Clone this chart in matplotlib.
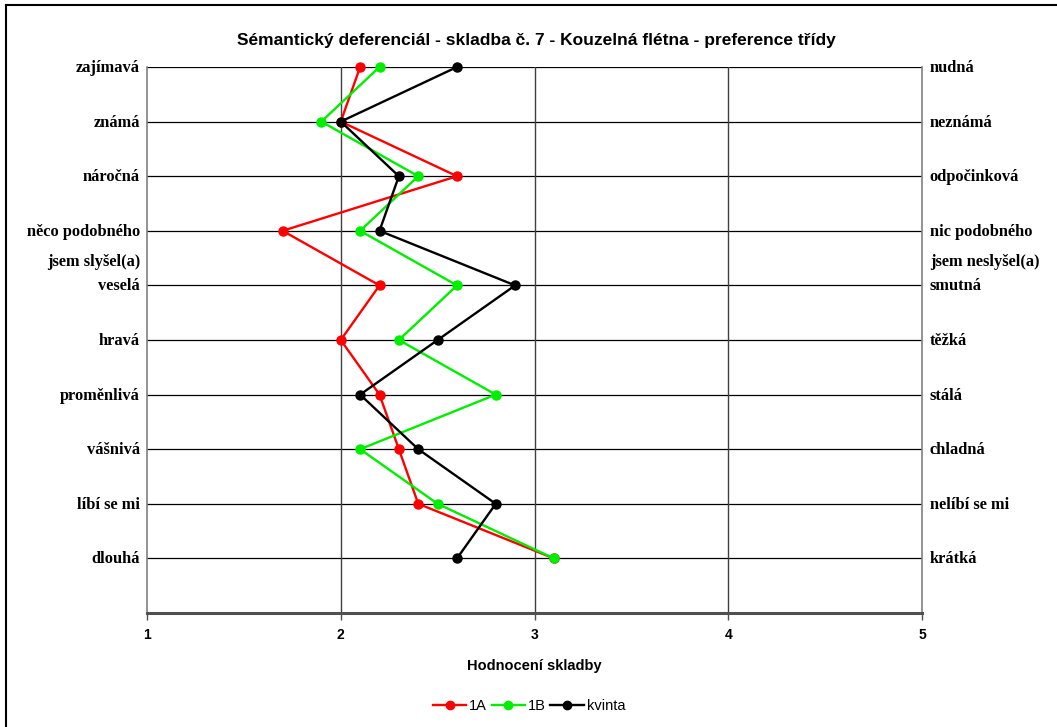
import matplotlib.pyplot as plt
from matplotlib.lines import Line2D

# Word pairs of the semantic differential (left pole / right pole)
left_labels = ["zajímavá", "známá", "náročná", "něco podobného\njsem slyšel(a)", "veselá",
               "hravá", "proměnlivá", "vášnivá", "líbí se mi", "dlouhá"]
right_labels = ["nudná", "neznámá", "odpočinková", "nic podobného\njsem neslyšel(a)", "smutná",
                "těžká", "stálá", "chladná", "nelíbí se mi", "krátká"]

# Mean ratings per class
class_1a = [2.1, 2.0, 2.6, 1.7, 2.2, 2.0, 2.2, 2.3, 2.4, 3.1]
class_1b = [2.2, 1.9, 2.4, 2.1, 2.6, 2.3, 2.8, 2.1, 2.5, 3.1]
kvinta = [2.6, 2.0, 2.3, 2.2, 2.9, 2.5, 2.1, 2.4, 2.8, 2.6]

series_names = ["1A", "1B", "kvinta"]
series_colors = ["#ff0000", "#00ee00", "#000000"]

rows = list(range(len(left_labels)))

fig = plt.figure(figsize=(10.57, 7.27), dpi=100)
ax = fig.add_axes([147 / 1057, 1 - 613 / 727, 775 / 1057, 546 / 727])

# grid: one horizontal line per word pair, vertical lines at scale points
for r in rows:
    ax.axhline(r, color="black", lw=0.9, zorder=1)
for v in [2, 3, 4]:
    ax.axvline(v, color="#404040", lw=1.0, zorder=1)

for vals, name, col in zip([class_1a, class_1b, kvinta], series_names, series_colors):
    ax.plot(vals, rows, color=col, lw=1.7, marker="o", ms=6.5, label=name, zorder=3,
            clip_on=False)

ax.set_xlim(1, 5)
ax.set_ylim(10, 0)
ax.set_yticks([])
ax.set_xticks([1, 2, 3, 4, 5])
ax.tick_params(axis="x", direction="out", length=5, width=1, color="#505050", pad=6)
for lab in ax.get_xticklabels():
    lab.set_fontweight("bold")
    lab.set_fontsize(10)
    lab.set_family("Liberation Sans")

for side in ["left", "right"]:
    ax.spines[side].set_color("#808080")
    ax.spines[side].set_linewidth(1.2)
ax.spines["bottom"].set_color("#505050")
ax.spines["bottom"].set_linewidth(2.2)
ax.spines["top"].set_visible(False)

# pole labels on both sides; extra lines of a label go below its row
serif = dict(family="Liberation Serif", fontweight="bold", fontsize=11.8)
for r, (lt, rt) in enumerate(zip(left_labels, right_labels)):
    for i, part in enumerate(lt.split("\n")):
        ax.text(-0.009, r + 0.02 + 0.55 * i, part, ha="right", va="center",
                transform=ax.get_yaxis_transform(), **serif)
    for i, part in enumerate(rt.split("\n")):
        ax.text(1.010, r + 0.02 + 0.55 * i, part, ha="left", va="center",
                transform=ax.get_yaxis_transform(), **serif)

ax.set_xlabel("Hodnocení skladby", fontsize=10.5, fontweight="bold",
              family="Liberation Sans", labelpad=12)

fig.text(536 / 1057, 1 - 40 / 727,
         "Sémantický deferenciál - skladba č. 7 - Kouzelná flétna - preference třídy",
         ha="center", va="center", fontsize=12.5, fontweight="bold", family="Liberation Sans")

handles = [Line2D([], [], color=c, lw=1.7, marker="o", ms=6) for c in series_colors]
fig.legend(handles, series_names, loc="center", bbox_to_anchor=(529 / 1057, 1 - 706 / 727),
           ncol=3, frameon=False, handlelength=2.3, handletextpad=0.2,
           columnspacing=0.3, prop=dict(family="Liberation Sans", size=10.5))

# chart frame
fig.add_artist(Line2D([6 / 1057, 6 / 1057], [0, 1 - 5 / 727], color="black", lw=1.5,
                      transform=fig.transFigure))
fig.add_artist(Line2D([6 / 1057, 1], [1 - 5 / 727, 1 - 5 / 727], color="black", lw=1.5,
                      transform=fig.transFigure))

fig.savefig("out.png", dpi=100)
